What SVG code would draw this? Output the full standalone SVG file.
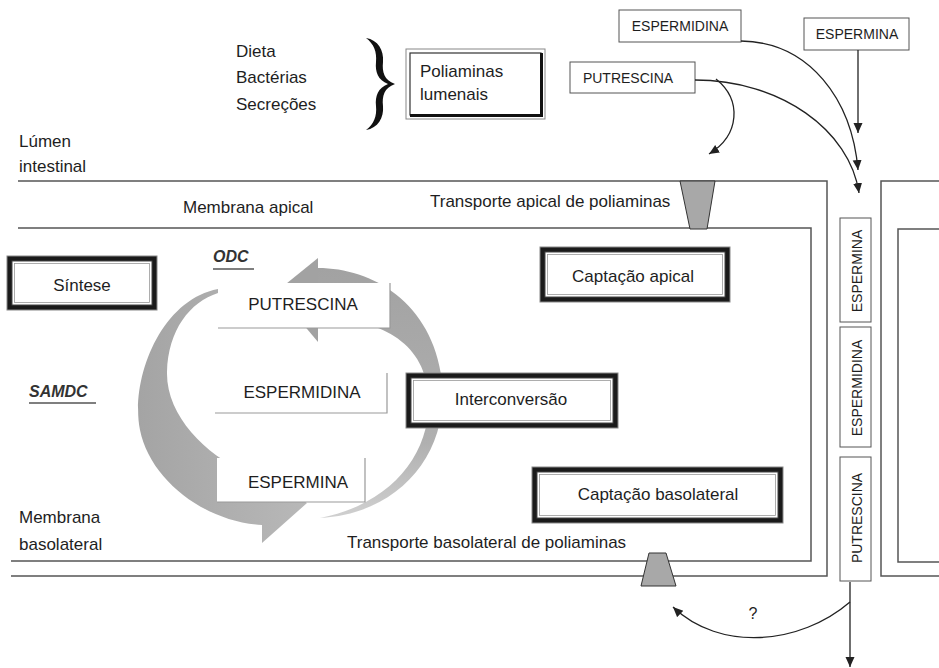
<svg xmlns="http://www.w3.org/2000/svg" width="939" height="668" viewBox="0 0 939 668">
<style>
text{font-family:"Liberation Sans",Arial,sans-serif;fill:#1e1e1e}
.t17{font-size:17px}
.t14{font-size:14px}
.mid{text-anchor:middle}
.mem{fill:none;stroke:#555;stroke-width:1.5}
.box{fill:#fff;stroke:#555;stroke-width:1}
.edge{fill:none;stroke:#999;stroke-width:1.2}
.f1{fill:#1a1a1a;stroke:#888;stroke-width:1}
.f2{fill:#fff;stroke:#444;stroke-width:1}
.f3{fill:none;stroke:#9a9a9a;stroke-width:0.8}
.con{fill:none;stroke:#222;stroke-width:1.3}
.enz{font-size:16px;font-weight:bold;font-style:italic;fill:#333}
.trap{fill:#a8a8a8;stroke:#333;stroke-width:1}
</style>
<defs>
<marker id="ah" markerUnits="userSpaceOnUse" markerWidth="11" markerHeight="10" refX="10" refY="4.5" orient="auto">
<path d="M0,0 L10,4.5 L0,9 z" fill="#222"/>
</marker>
<linearGradient id="gR" x1="0" y1="0" x2="0" y2="1">
<stop offset="0" stop-color="#a2a2a2"/>
<stop offset="0.7" stop-color="#b0b0b0"/>
<stop offset="1" stop-color="#d0d0d0"/>
</linearGradient>
<linearGradient id="gL" x1="0" y1="0" x2="1" y2="0">
<stop offset="0" stop-color="#a4a4a4"/>
<stop offset="1" stop-color="#b8b8b8"/>
</linearGradient>
</defs>
<rect width="939" height="668" fill="#fff"/>

<!-- membranes -->
<g id="membranes">
<path class="mem" d="M18,181 H827 V576 H11"/>
<path class="mem" d="M18,228 H811 V561 H11"/>
<path class="mem" d="M939,181 H881 V576 H939"/>
<path class="mem" d="M939,229 H898 V562 H939"/>
</g>

<!-- labels -->
<g id="labels">
<text class="t17" x="236" y="57">Dieta</text>
<text class="t17" x="236" y="83">Bactérias</text>
<text class="t17" x="236" y="110">Secreções</text>
<path d="M366,38 C378,40 384,50 383,62 C382,72 384,80 395,84 C384,88 382,96 383,106 C384,118 378,128 366,130 C374,124 377,116 376,106 C375,96 378,88 388,84 C378,80 375,72 376,62 C377,52 374,44 366,38 Z" fill="#111"/>
<text class="t17" x="19" y="147">Lúmen</text>
<text class="t17" x="19" y="172">intestinal</text>
<text class="t17" x="183" y="213">Membrana apical</text>
<text class="t17" x="430" y="207">Transporte apical de poliaminas</text>
<text class="t17" x="19" y="523">Membrana</text>
<text class="t17" x="19" y="550">basolateral</text>
<text class="t17" x="347" y="548">Transporte basolateral de poliaminas</text>
<text class="enz" x="213" y="262">ODC</text>
<line x1="213" y1="269" x2="254" y2="269" stroke="#555" stroke-width="1.5"/>
<text class="enz" x="29" y="397">SAMDC</text>
<line x1="29" y1="403" x2="96" y2="403" stroke="#555" stroke-width="1.5"/>
<text class="mid" x="753" y="619" font-size="16">?</text>
</g>

<!-- transporters -->
<g id="transporters">
<polygon class="trap" points="680,181 715,181 707,229 690,229"/>
<polygon class="trap" points="649,553 666,553 676,586 641,586"/>
</g>

<!-- cycle -->
<g id="cycle">
<path d="M218,289 C160,300 130,380 140,430 C150,480 205,522 262,525 L262,543 L307,503 L250,462 L246,472 C205,455 166,415 167,372 C168,330 190,302 218,293 Z" fill="url(#gL)"/>
<path d="M318,268 C372,268 432,302 442,380 C450,452 400,514 320,518 C392,504 434,452 428,392 C423,342 380,318 318,318 Z" fill="url(#gR)"/>
<polygon points="318,258 318,342 276,292" fill="#a2a2a2"/>
</g>

<g id="n-putrescina-cycle">
<rect x="218" y="283" width="172" height="45" fill="#fff"/>
<path class="edge" d="M390,283 V328 H218"/>
<text class="t17 mid" x="303" y="310">PUTRESCINA</text>
</g>
<g id="n-espermidina-cycle">
<rect x="215" y="373" width="172" height="40" fill="#fff"/>
<path class="edge" d="M387,373 V413 H215"/>
<text class="t17 mid" x="302" y="398">ESPERMIDINA</text>
</g>
<g id="n-espermina-cycle">
<rect x="217" y="458" width="148" height="44" fill="#fff"/>
<path class="edge" d="M365,458 V502 H217"/>
<text class="t17 mid" x="298" y="488">ESPERMINA</text>
</g>

<!-- framed nodes -->
<g id="n-poliaminas">
<rect x="406" y="49" width="139" height="70" fill="#fff" stroke="#888" stroke-width="1"/>
<rect x="410" y="53" width="131" height="62" fill="#fff" stroke="#333" stroke-width="1.2"/>
<path d="M410,115.5 H541.5 V53" fill="none" stroke="#111" stroke-width="3"/>
<text class="t17" x="420" y="77">Poliaminas</text>
<text class="t17" x="420" y="100">lumenais</text>
</g>
<g id="n-sintese">
<rect class="f1" x="7" y="256" width="150" height="54"/>
<rect class="f2" x="12" y="261" width="140" height="44"/>
<rect class="f3" x="14.5" y="263.5" width="135" height="39"/>
<text class="t17 mid" x="82" y="291">Síntese</text>
</g>
<g id="n-captacao-apical">
<rect class="f1" x="540" y="247" width="190" height="55"/>
<rect class="f2" x="545" y="252" width="180" height="45"/>
<rect class="f3" x="547.5" y="254.5" width="175" height="40"/>
<text class="t17 mid" x="633" y="282">Captação apical</text>
</g>
<g id="n-interconversao">
<rect class="f1" x="406" y="373" width="212" height="55"/>
<rect class="f2" x="411" y="378" width="202" height="45"/>
<rect class="f3" x="413.5" y="380.5" width="197" height="40"/>
<text class="t17 mid" x="511" y="405">Interconversão</text>
</g>
<g id="n-captacao-basolateral">
<rect class="f1" x="532" y="467" width="251" height="56"/>
<rect class="f2" x="537" y="472" width="241" height="46"/>
<rect class="f3" x="539.5" y="474.5" width="236" height="41"/>
<text class="t17 mid" x="658" y="500">Captação basolateral</text>
</g>

<!-- top small boxes -->
<g id="n-espermidina-top">
<rect class="box" x="619" y="10" width="122" height="32"/>
<text class="t14 mid" x="680" y="31">ESPERMIDINA</text>
</g>
<g id="n-espermina-top">
<rect class="box" x="804" y="18" width="105" height="32"/>
<text class="t14 mid" x="857" y="39">ESPERMINA</text>
</g>
<g id="n-putrescina-top">
<rect class="box" x="570" y="62" width="125" height="31"/>
<text class="t14 mid" x="628" y="83">PUTRESCINA</text>
</g>

<!-- channel boxes -->
<g id="n-espermina-ch">
<rect class="box" x="840" y="218" width="31" height="104"/>
<text class="t14 mid" transform="translate(862,271) rotate(-90)">ESPERMINA</text>
</g>
<g id="n-espermidina-ch">
<rect class="box" x="840" y="327" width="31" height="120"/>
<text class="t14 mid" transform="translate(862,388) rotate(-90)">ESPERMIDINA</text>
</g>
<g id="n-putrescina-ch">
<rect class="box" x="840" y="457" width="31" height="124"/>
<text class="t14 mid" transform="translate(862,518) rotate(-90)">PUTRESCINA</text>
</g>

<!-- connectors -->
<g id="connectors">
<path class="con" d="M858,50 V133" marker-end="url(#ah)"/>
<path class="con" d="M741,41 C810,42 852,100 858,170" marker-end="url(#ah)"/>
<path class="con" d="M695,80 C780,80 850,130 859,193" marker-end="url(#ah)"/>
<path class="con" d="M716,79 C742,100 740,135 709,154" marker-end="url(#ah)"/>
<path class="con" d="M850,582 V667" marker-end="url(#ah)"/>
<path class="con" d="M850,602 C800,645 720,652 673,607" marker-end="url(#ah)"/>
</g>
</svg>
